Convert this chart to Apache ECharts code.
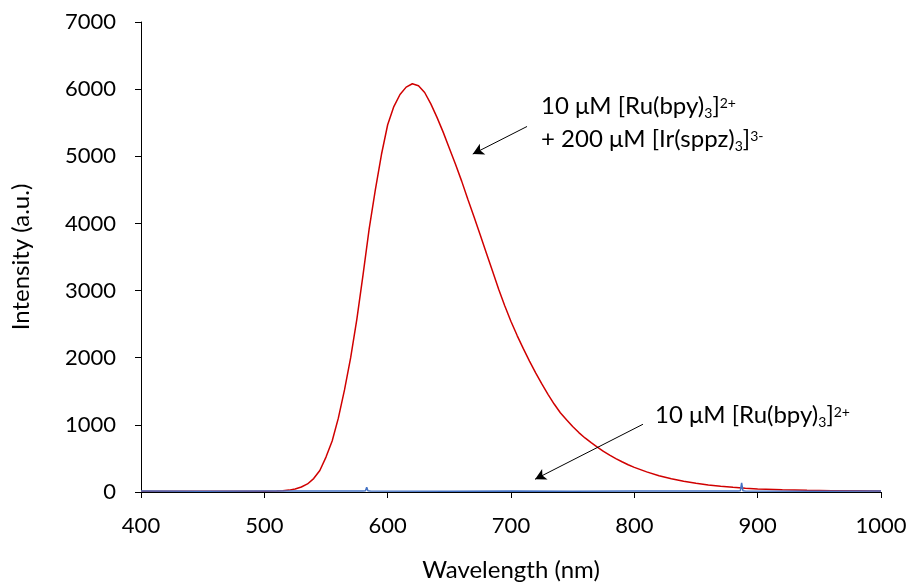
<!DOCTYPE html>
<html>
<head>
<meta charset="utf-8">
<script src="https://cdn.jsdelivr.net/npm/echarts@6/dist/echarts.min.js"></script>
<style>
html,body{margin:0;padding:0;background:#fff;}
#chart{width:909px;height:582px;}
</style>
</head>
<body>
<div id="chart"></div>
<script>
// Red: 10 uM [Ru(bpy)3]2+ + 200 uM [Ir(sppz)3]3-
const redWavelength = [400,420,440,460,480,500,510,515,520,525,530,535,540,545,550,555,560,565,570,575,580,585,590,595,600,605,610,615,620,625,630,635,640,645,650,655,660,665,670,675,680,685,690,695,700,705,710,715,720,725,730,735,740,745,750,755,760,765,770,775,780,785,790,795,800,810,820,830,840,850,860,870,880,890,900,920,940,960,980,1000];
const redIntensity  = [12,11,12,11,12,13,14,18,28,45,75,120,200,320,520,760,1100,1520,2000,2570,3230,3920,4500,5030,5470,5740,5920,6030,6080,6050,5950,5780,5580,5360,5120,4880,4630,4360,4100,3830,3560,3290,3020,2770,2540,2330,2135,1950,1775,1610,1455,1310,1180,1075,975,885,805,735,670,605,548,497,450,406,367,300,242,196,160,130,105,86,70,56,45,32,25,20,17,15];
// Blue: 10 uM [Ru(bpy)3]2+ alone
const blueWavelength = [400,450,500,550,580,582,583,584,586,650,700,750,800,850,884,886,887,888,890,950,1000];
const blueIntensity  = [14,13,15,14,14,18,70,18,14,13,14,13,15,14,14,20,135,20,14,13,14];
// Axis ticks
const xTicks = [400,500,600,700,800,900,1000];
const yTicks = [0,1000,2000,3000,4000,5000,6000,7000];
// Arrow annotations (data coordinates: start -> end)
const arrow1 = [[713,5444],[669,5033]];
const arrow2 = [[807,1009],[719.5,190]];
// Annotation texts: [text, role] ; role: n = normal, sub = subscript, sup = superscript
const label1a = [['10 μM [Ru(bpy)','n'],['3','sub'],[']','n'],['2+','sup']];
const label1b = [['+ 200 μM [Ir(sppz)','n'],['3','sub'],[']','n'],['3-','sup']];
const label2  = [['10 μM [Ru(bpy)','n'],['3','sub'],[']','n'],['2+','sup']];

const pair = (xs, ys) => xs.map((x,i)=>[x, ys[i]]);
const FONT = 'Lato';
const roles = {n:{size:24, dy:0}, sub:{size:14, dy:7}, sup:{size:14, dy:-3}};
const ctx = document.createElement('canvas').getContext('2d');
function buildLine(segs, x0, yc){
  const out = [];
  let x = x0;
  segs.forEach(([t, r])=>{
    const st = roles[r];
    const font = st.size + 'px ' + FONT;
    ctx.font = font;
    out.push({type:'text', x:x, y:yc + st.dy, silent:true, z:100,
      style:{text:t, font:font, fill:'#000', textVerticalAlign:'middle', textAlign:'left', verticalAlign:'middle', align:'left'}});
    x += ctx.measureText(t).width;
  });
  return out;
}

const chart = echarts.init(document.getElementById('chart'), null, {renderer:'canvas'});
const axisCommon = {
  axisLine:{show:true, lineStyle:{color:'#000', width:1}},
  axisTick:{show:true, inside:false, length:6, lineStyle:{color:'#000'}},
  splitLine:{show:false},
  axisLabel:{color:'#000', fontSize:22, fontFamily:FONT, formatter:v=>String(v)},
  nameTextStyle:{color:'#000', fontSize:24, fontFamily:FONT}
};
chart.setOption({
  animation:false,
  backgroundColor:'#fff',
  grid:{left:141, right:28, top:22, bottom:90, containLabel:false, outerBoundsMode:'none'},
  xAxis:Object.assign({}, axisCommon, {
    type:'value', min:xTicks[0], max:xTicks[xTicks.length-1], interval:100,
    name:'Wavelength (nm)', nameLocation:'middle', nameGap:66,
    axisLabel:Object.assign({}, axisCommon.axisLabel, {margin:23})
  }),
  yAxis:Object.assign({}, axisCommon, {
    type:'value', min:yTicks[0], max:yTicks[yTicks.length-1], interval:1000,
    name:'Intensity (a.u.)', nameLocation:'middle', nameGap:108, nameRotate:90,
    axisLabel:Object.assign({}, axisCommon.axisLabel, {margin:25})
  }),
  series:[
    {
      type:'line', data:pair(redWavelength, redIntensity), showSymbol:false,
      lineStyle:{color:'#D00000', width:1.5}, itemStyle:{color:'#D00000'}, z:2,
      markLine:{
        silent:true, symbol:['none','arrow'], symbolSize:[9,11],
        lineStyle:{color:'#000', width:1, type:'solid'}, label:{show:false},
        data:[
          [{coord:arrow1[0]},{coord:arrow1[1]}],
          [{coord:arrow2[0]},{coord:arrow2[1]}]
        ]
      }
    },
    {
      type:'line', data:pair(blueWavelength, blueIntensity), showSymbol:false,
      lineStyle:{color:'#4472C4', width:1.5}, itemStyle:{color:'#4472C4'}, z:3
    }
  ],
  graphic:[].concat(
    buildLine(label1a, 541, 106),
    buildLine(label1b, 541, 139),
    buildLine(label2, 655, 415)
  )
});
</script>
</body>
</html>
